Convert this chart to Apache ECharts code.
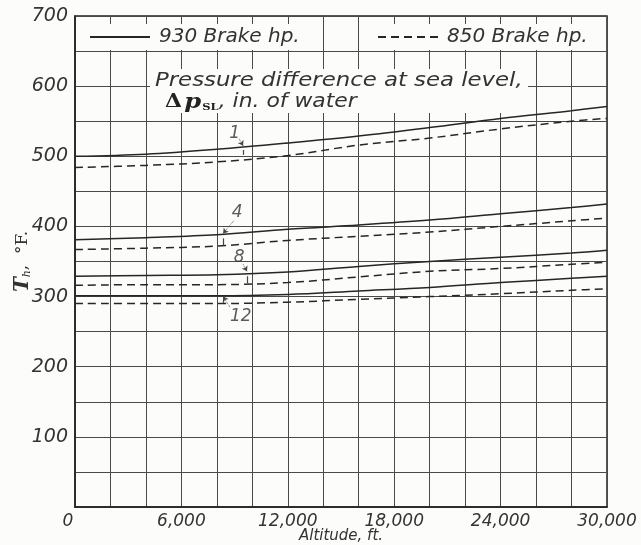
<!DOCTYPE html>
<html><head><meta charset="utf-8">
<script src="https://cdn.jsdelivr.net/npm/echarts@6/dist/echarts.min.js"></script>
<style>html,body{margin:0;padding:0;background:#fcfcfb}#c{width:641px;height:545px}</style>
</head><body><div id="c"></div>
<script>
// ---- data ----
const altitude   = [0, 4000, 8000, 12000, 16000, 20000, 24000, 28000, 30000];
const hp930_dp1  = [500, 503, 510, 519, 529, 541, 554, 565, 571];
const hp850_dp1  = [484, 487, 492, 501, 516, 526, 539, 550, 554];
const hp930_dp4  = [381, 384, 388, 396, 402, 409, 418, 427, 432];
const hp850_dp4  = [367, 369, 372, 380, 386, 392, 400, 408, 412];
const hp930_dp8  = [329, 330, 331, 335, 343, 350, 356, 362, 366];
const hp850_dp8  = [316, 317, 317, 320, 328, 336, 340, 346, 349];
const hp930_dp12 = [301, 301, 301, 303, 308, 313, 320, 326, 329];
const hp850_dp12 = [290, 290, 290, 292, 296, 300, 304, 309, 311];

const xTickValues = [0, 6000, 12000, 18000, 24000, 30000];
const xTickLabels = ['0', '6,000', '12,000', '18,000', '24,000', '30,000'];
const yTickValues = [100, 200, 300, 400, 500, 600, 700];
const yTickLabels = ['100', '200', '300', '400', '500', '600', '700'];

const seriesNames = ['930 Brake hp.', '850 Brake hp.'];

// curve annotations (Δp labels) in data units
const annoText = ['1', '4', '8', '12'];
const annoAt   = [[9000, 532], [9150, 420], [9250, 355], [9350, 272]];
const leaderFrom = [[9250, 525], [8950, 408], [9480, 346], [8740, 285]];
const leaderTo   = [[9480, 515], [8350, 390], [9700, 336], [8350, 300]];
const barFrom    = [[9480, 509], [8350, 383], [9700, 329], [8350, 296]];
const barTo      = [[9480, 502], [8350, 373], [9700, 319], [8350, 291]];

// ---- chart ----
const FONT = 'DejaVu Sans';
const INK = '#262626';
const zip = ys => altitude.map((a, i) => [a, ys[i]]);

function curve(name, ys, dashed) {
  return {
    type: 'line', name, data: zip(ys), smooth: 0.35, symbol: 'none', showSymbol: false, silent: true,
    lineStyle: { color: INK, width: 1.5, type: dashed ? [8, 5] : 'solid' },
    itemStyle: { color: INK }, z: 3
  };
}

const annoSeries = {
  type: 'scatter', name: 'anno', symbolSize: 0, silent: true, z: 5,
  data: annoAt.map((p, i) => ({ value: p, label: { formatter: annoText[i] } })),
  label: { show: true, position: 'inside', fontFamily: FONT, fontStyle: 'italic', fontSize: 17, color: '#333' },
  markLine: {
    silent: true, symbol: ['none', 'arrow'], symbolSize: 5, animation: false,
    label: { show: false },
    lineStyle: { color: '#444', width: 0.9, type: 'dotted' },
    data: leaderFrom.map((f, i) => [{ coord: f }, { coord: leaderTo[i] }])
      .concat(barFrom.map((f, i) => [{ coord: f, symbol: 'none', lineStyle: { type: 'solid', width: 1.2 } }, { coord: barTo[i], symbol: 'none' }]))
  }
};

const legendCommon = {
  top: 24, padding: [3, 4], itemWidth: 60, itemHeight: 12, itemGap: 0,
  backgroundColor: '#fcfcfb', selectedMode: false,
  itemStyle: { opacity: 0, borderWidth: 0 },
  textStyle: { fontFamily: FONT, fontStyle: 'italic', fontSize: 20, color: '#333', padding: [0, 0, 0, 4] }
};

const chart = echarts.init(document.getElementById('c'), null, { renderer: 'canvas' });
chart.setOption({
  animation: false,
  backgroundColor: '#fcfcfb',
  grid: { left: 75, right: 34, top: 16, bottom: 38, outerBoundsMode: 'none', containLabel: false,
          show: true, borderColor: '#222', borderWidth: 1.5, backgroundColor: 'transparent' },
  xAxis: {
    type: 'value', min: 0, max: 30000, interval: 2000,
    name: 'Altitude, ft.', nameLocation: 'middle', nameGap: 22, nameMoveOverlap: false,
    nameTextStyle: { fontFamily: FONT, fontStyle: 'italic', fontSize: 15, color: '#333' },
    axisLine: { show: true, lineStyle: { color: '#222', width: 1.5 } },
    axisTick: { show: false },
    splitLine: { show: true, lineStyle: { color: '#4a4a4a', width: 1 } },
    axisLabel: {
      margin: 6, fontFamily: FONT, fontStyle: 'italic', fontSize: 17, color: '#333',
      formatter: v => { const i = xTickValues.indexOf(v); return i < 0 ? '' : (i === 0 ? '{z|' + xTickLabels[i] + '}' : xTickLabels[i]); },
      rich: { z: { fontFamily: FONT, fontStyle: 'italic', fontSize: 17, color: '#333', padding: [0, 14, 0, 0] } }
    }
  },
  yAxis: {
    type: 'value', min: 0, max: 700, interval: 50,
    name: '{t|T}{h|h}{r|,  °F.}', nameLocation: 'middle', nameGap: 42, nameRotate: 90, nameMoveOverlap: false,
    nameTextStyle: {
      rich: {
        t: { fontFamily: 'DejaVu Serif', fontWeight: 'bold', fontStyle: 'italic', fontSize: 20, color: '#333' },
        h: { fontFamily: 'DejaVu Serif', fontStyle: 'italic', fontSize: 11, color: '#333', padding: [10, 0, 0, 0] },
        r: { fontFamily: 'DejaVu Serif', fontSize: 17, color: '#333' }
      }
    },
    axisLine: { show: true, lineStyle: { color: '#222', width: 1.5 } },
    axisTick: { show: false },
    splitLine: { show: true, lineStyle: { color: '#4a4a4a', width: 1 } },
    axisLabel: {
      margin: 7, fontFamily: FONT, fontStyle: 'italic', fontSize: 19, color: '#333',
      formatter: v => { const i = yTickValues.indexOf(v); return i < 0 ? '' : yTickLabels[i]; }
    }
  },
  legend: [
    Object.assign({}, legendCommon, { data: [seriesNames[0]], left: 85 }),
    Object.assign({}, legendCommon, { data: [seriesNames[1]], left: 373 })
  ],
  graphic: [
    { type: 'rect', shape: { x: 150, y: 69, width: 378, height: 44 }, style: { fill: '#fcfcfb' }, z: 10, silent: true },
    { type: 'text', x: 155, y: 72, z: 11, silent: true, scaleX: 1.2,
      style: { text: 'Pressure difference at sea level,', font: 'italic 19px "DejaVu Sans"', fill: '#333' } },
    { type: 'text', x: 165, y: 92, z: 11, silent: true, scaleX: 1.15,
      style: {
        text: '{d|Δ}{p|p}{s|SL}{r|, in. of water}', fill: '#333',
        rich: {
          d: { font: 'bold 19px "DejaVu Serif"', fill: '#222', padding: [0, 2, 0, 0] },
          p: { font: 'bold italic 21px "DejaVu Serif"', fill: '#222' },
          s: { font: 'bold 10px "DejaVu Serif"', fill: '#222', padding: [9, 0, 0, 1] },
          r: { font: 'italic 19px "DejaVu Sans"', fill: '#333' }
        }
      } }
  ],
  series: [
    curve(seriesNames[0], hp930_dp1, false),
    curve(seriesNames[1], hp850_dp1, true),
    curve(seriesNames[0], hp930_dp4, false),
    curve(seriesNames[1], hp850_dp4, true),
    curve(seriesNames[0], hp930_dp8, false),
    curve(seriesNames[1], hp850_dp8, true),
    curve(seriesNames[0], hp930_dp12, false),
    curve(seriesNames[1], hp850_dp12, true),
    annoSeries
  ]
});
</script>
</body></html>
